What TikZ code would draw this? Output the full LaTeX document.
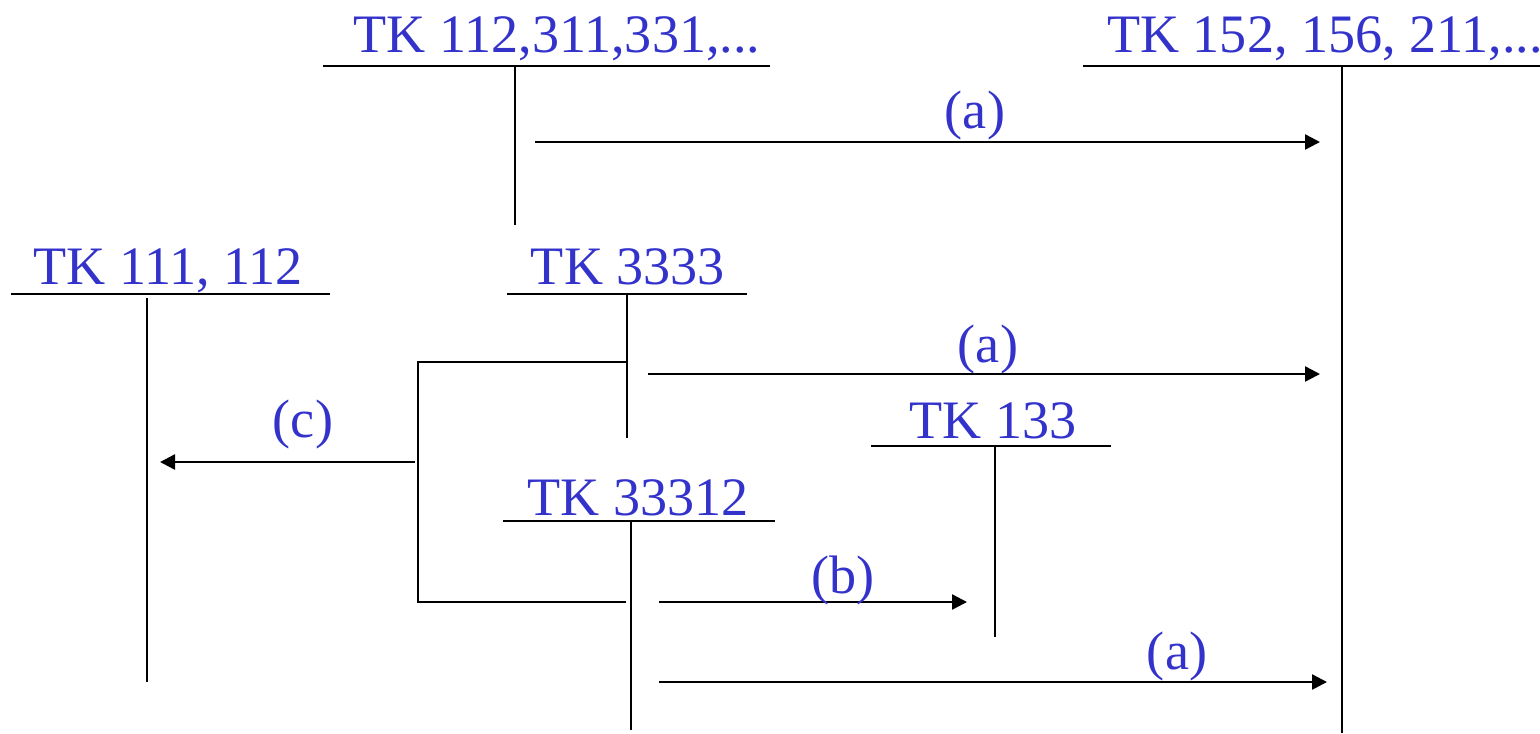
\documentclass[tikz,border=0pt]{standalone}
\usepackage{fontspec}
\setmainfont{Liberation Serif}
\usetikzlibrary{arrows.meta}
\definecolor{tkblue}{RGB}{51,51,204}
\tikzset{
    % blue text: headings over the life lines and message labels
    tktext/.style={anchor=base, text=tkblue, inner sep=0pt,
                   font=\fontsize{15.4}{18}\selectfont},
    % plain black lines (underlines, life lines, bracket)
    lifeline/.style={line width=0.7pt},
    % messages between life lines
    msgarrow/.style={-{Triangle[length=0.15cm, width=0.15cm]}, line width=0.7pt},
}

\begin{document}
\begin{tikzpicture}[x=0.01cm, y=-0.01cm]
    \useasboundingbox (0,0) rectangle (1540,733);

    % ===== headings =====
    \node[tktext] (hTop)   at (557,52)  {TK 112,311,331,...};
    \node[tktext] (hRight) at (1325,52) {TK 152, 156, 211,...};
    \node[tktext] (hLeft)  at (168,284) {TK 111, 112};
    \node[tktext] (hMid)   at (628,284) {TK 3333};
    \node[tktext] (hSide)  at (993,438) {TK 133};
    \node[tktext] (hLow)   at (638,515) {TK 33312};

    % ===== underlines and life lines =====
    \coordinate (topW) at (323,66);   \coordinate (topE) at (770,66);
    \coordinate (topA) at (515,66);   \coordinate (topZ) at (515,225);
    \draw[lifeline] (topW) -- (topE);
    \draw[lifeline] (topA) -- (topZ);

    \coordinate (rightW) at (1083,66); \coordinate (rightE) at (1540,66);
    \coordinate (rightA) at (1342,66); \coordinate (rightZ) at (1342,733);
    \draw[lifeline] (rightW) -- (rightE);
    \draw[lifeline] (rightA) -- (rightZ);

    \coordinate (leftW) at (11,294);  \coordinate (leftE) at (330,294);
    \coordinate (leftA) at (147,298); \coordinate (leftZ) at (147,682);
    \draw[lifeline] (leftW) -- (leftE);
    \draw[lifeline] (leftA) -- (leftZ);

    \coordinate (midW) at (507,294);  \coordinate (midE) at (747,294);
    \coordinate (midA) at (627,294);  \coordinate (midZ) at (627,438);
    \draw[lifeline] (midW) -- (midE);
    \draw[lifeline] (midA) -- (midZ);

    \coordinate (sideW) at (871,446); \coordinate (sideE) at (1111,446);
    \coordinate (sideA) at (995,446); \coordinate (sideZ) at (995,637);
    \draw[lifeline] (sideW) -- (sideE);
    \draw[lifeline] (sideA) -- (sideZ);

    \coordinate (lowW) at (503,521);  \coordinate (lowE) at (775,521);
    \coordinate (lowA) at (631,521);  \coordinate (lowZ) at (631,730);
    \draw[lifeline] (lowW) -- (lowE);
    \draw[lifeline] (lowA) -- (lowZ);

    % bracket from TK 3333 down to TK 33312
    \coordinate (brTop) at (627,362);
    \coordinate (brBot) at (626,602);
    \draw[lifeline] (brTop) -- (418,362) -- (418,602) -- (brBot);

    % ===== messages =====
    \coordinate (m1s) at (535,142);  \coordinate (m1e) at (1320,142);
    \draw[msgarrow] (m1s) -- (m1e);
    \node[tktext] (l1) at (975,128) {(a)};

    \coordinate (m2s) at (648,374);  \coordinate (m2e) at (1320,374);
    \draw[msgarrow] (m2s) -- (m2e);
    \node[tktext] (l2) at (988,362) {(a)};

    \coordinate (m3s) at (415,462);  \coordinate (m3e) at (160,462);
    \draw[msgarrow] (m3s) -- (m3e);
    \node[tktext] (l3) at (303,437) {(c)};

    \coordinate (m4s) at (659,602);  \coordinate (m4e) at (967,602);
    \draw[msgarrow] (m4s) -- (m4e);
    \node[tktext] (l4) at (843,593) {(b)};

    \coordinate (m5s) at (659,682);  \coordinate (m5e) at (1327,682);
    \draw[msgarrow] (m5s) -- (m5e);
    \node[tktext] (l5) at (1177,669) {(a)};

\end{tikzpicture}
\end{document}
